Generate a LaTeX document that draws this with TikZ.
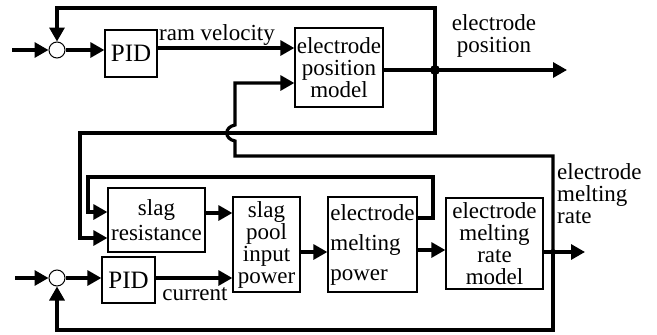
\documentclass[tikz,border=0pt]{standalone}
\usepackage{fontspec}
\setmainfont{Liberation Serif}
\usetikzlibrary{arrows.meta}
\begin{document}
\begin{tikzpicture}[x=1pt,y=-1pt,
  conn/.style={line width=3.2pt, -{Triangle[length=14pt,width=15pt]}},
  wire/.style={line width=3.2pt},
  blk/.style={draw, line width=1.3pt, rectangle, inner sep=0pt, align=center, font=\fontsize{23}{22}\selectfont},
  pidfont/.style={font=\fontsize{25}{24}\selectfont},
  sumj/.style={draw, circle, line width=1pt, minimum size=16pt, inner sep=0pt},
  txt/.style={inner sep=0pt, font=\fontsize{23}{22}\selectfont},
  dotj/.style={circle, fill, inner sep=0pt, minimum size=10pt}]
\useasboundingbox (0,0) rectangle (657,335);
% blocks
\node[sumj] (s1) at (57,50) {};
\node[blk, pidfont, minimum width=52pt, minimum height=47pt] (pid1) at (131,53.5) {PID};
\node[blk, minimum width=88pt, minimum height=79pt] (epm) at (339,67.5) {electrode\\position\\model};
\node[sumj] (s2) at (57,278) {};
\node[blk, pidfont, minimum width=53pt, minimum height=46pt] (pid2) at (128.5,280) {PID};
\node[blk, minimum width=97pt, minimum height=64pt] (sr) at (156.5,220) {slag\\[3pt]resistance};
\node[blk, minimum width=67pt, minimum height=95pt] (spp) at (266.5,244.5) {slag\\pool\\input\\power};
\node[blk, align=left, minimum width=89pt, minimum height=95pt] (emp) at (372.5,244.5) {electrode\\[8pt]melting\\[8pt]power};
\node[blk, minimum width=97pt, minimum height=91pt] (emr) at (494.5,243.5) {electrode\\melting\\rate\\model};
% coordinates
\coordinate (jp) at (435,70);
\coordinate (jr) at (553,252);
\coordinate (in1) at (12,50);
\coordinate (in2) at (15,278);
\coordinate (outp) at (567,70);
\coordinate (outr) at (585,252);
% top loop
\draw[conn] (in1) -- (s1.west);
\draw[conn] (s1.east) -- (pid1.west |- s1.east);
\draw[conn] (pid1.east |- 0,48) -- (epm.west |- 0,48);
\node[txt, anchor=base] (rv) at (217,40) {ram velocity};
\draw[wire] (epm.east |- jp) -- (jp);
\draw[conn] (jp) -- (outp);
\draw[conn] (jp) -- (435,8) -- (57,8) -- (s1.north);
\draw[conn] (jp) -- (435,133) -- (80,133) -- (80,238) -- (sr.west |- 0,238);
\node[dotj] (dp) at (jp) {};
\node[txt, align=center] (lp) at (494,36) {electrode\\position};
% bottom loop
\draw[conn] (emp.east |- 0,218) -- (433,218) -- (433,177) -- (88,177) -- (88,212) -- (sr.west |- 0,212);
\draw[conn] (sr.east |- 0,213) -- (spp.west |- 0,213);
\draw[conn] (in2) -- (s2.west);
\draw[conn] (s2.east) -- (pid2.west |- s2.east);
\draw[conn] (pid2.east |- 0,278) -- (spp.west |- 0,278);
\node[txt] (cur) at (195,294) {current};
\draw[conn] (spp.east |- 0,252) -- (emp.west |- 0,252);
\draw[conn] (emp.east |- 0,250) -- (emr.west |- 0,250);
\draw[conn] (emr.east |- 0,252) -- (outr);
\node[dotj, minimum size=6pt] (dr) at (jr) {};
\draw[conn] (jr) -- (553,156) -- (235,156) -- (235,141) .. controls (224,139) and (224,127) .. (235,125) -- (235,83) -- (epm.west |- 0,83);
\draw[conn] (jr) -- (553,330) -- (57,330) -- (s2.south);
\node[txt, align=left, anchor=west] (lr) at (557,194) {electrode\\melting\\rate};
\end{tikzpicture}
\end{document}
